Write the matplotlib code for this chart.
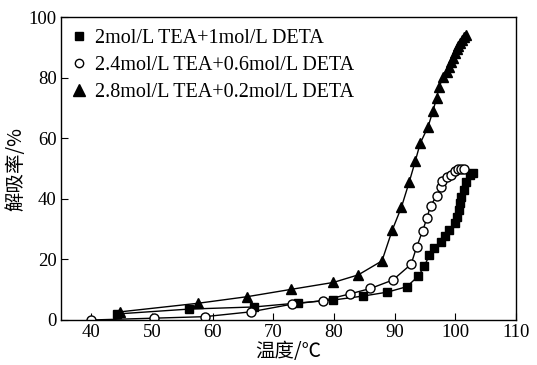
import matplotlib
matplotlib.use("Agg")
import matplotlib.pyplot as plt
from matplotlib.lines import Line2D

plt.rcParams["font.family"] = ["Liberation Serif", "Noto Sans CJK SC"]
plt.rcParams["mathtext.fontset"] = "stix"

# 2mol/L TEA + 1mol/L DETA (squares)
sq_x = [44.3, 56.1, 66.8, 74.0, 79.9, 84.8, 88.8, 92.0, 93.9, 94.9, 95.7, 96.5,
        97.6, 98.3, 99.0, 99.9, 100.3, 100.6, 100.7, 101.0, 101.4, 101.8, 102.4, 102.9]
sq_y = [2.0, 3.6, 4.3, 5.6, 6.6, 7.9, 9.2, 11.0, 14.5, 17.8, 21.4, 23.7,
        25.8, 27.7, 29.7, 31.9, 34.1, 36.3, 38.5, 40.7, 42.9, 45.6, 47.9, 48.4]

# 2.4mol/L TEA + 0.6mol/L DETA (circles)
ci_x = [40.0, 50.3, 58.7, 66.3, 73.0, 78.1, 82.6, 86.0, 89.7, 92.7, 93.6, 94.6,
        95.3, 95.9, 96.9, 97.6, 97.8, 98.6, 99.3, 99.9, 100.5, 101.0, 101.4]
ci_y = [0.0, 0.6, 1.1, 2.7, 5.2, 6.4, 8.6, 10.4, 13.2, 18.4, 24.0, 29.4,
        33.6, 37.7, 40.9, 43.8, 46.0, 47.1, 47.9, 49.3, 49.7, 49.7, 49.7]

# 2.8mol/L TEA + 0.2mol/L DETA (triangles)
tr_x = [44.8, 57.5, 65.7, 72.9, 79.9, 84.0, 87.9, 89.6, 91.1, 92.4, 93.4, 94.2,
        95.5, 96.3, 96.9, 97.3, 98.0, 98.6, 99.0, 99.3, 99.6, 99.9, 100.2, 100.5,
        100.8, 101.1, 101.4, 101.8]
tr_y = [2.7, 5.5, 7.7, 10.1, 12.4, 14.9, 19.5, 29.7, 37.2, 45.6, 52.5, 58.3,
        63.8, 69.0, 73.2, 76.8, 80.3, 82.0, 83.5, 85.0, 86.5, 88.0, 89.5, 90.5,
        91.5, 92.5, 93.3, 94.0]

labels = ["2mol/L TEA+1mol/L DETA",
          "2.4mol/L TEA+0.6mol/L DETA",
          "2.8mol/L TEA+0.2mol/L DETA"]

fig = plt.figure(figsize=(5.37, 3.65), dpi=100)
ax = fig.add_axes([0.1136, 0.1233, 0.8474, 0.8301])

ax.plot(sq_x, sq_y, "-", color="black", lw=1.0, marker="s", ms=5.5, mfc="black")
ax.plot(ci_x, ci_y, "-", color="black", lw=1.0, marker="o", ms=6.5, mfc="white", mec="black")
ax.plot(tr_x, tr_y, "-", color="black", lw=1.0, marker="^", ms=7, mfc="black")

handles = [
    Line2D([], [], ls="none", marker="s", ms=6, color="black"),
    Line2D([], [], ls="none", marker="o", ms=6, mfc="white", mec="black"),
    Line2D([], [], ls="none", marker="^", ms=8, color="black"),
]
ax.legend(handles, labels, loc="upper left", bbox_to_anchor=(0.0, 1.0),
          frameon=False, fontsize=14.5, handlelength=0.6, handletextpad=0.5,
          labelspacing=0.4, borderaxespad=0.3, borderpad=0.3)

ax.set_xlim(35, 110)
ax.set_ylim(0, 100)
ax.set_xticks(range(40, 111, 10))
ax.set_yticks(range(0, 101, 20))
ax.tick_params(direction="in", length=5, width=0.8, labelsize=13.5,
               top=False, right=False, pad=3)
for s in ax.spines.values():
    s.set_linewidth(1.0)

ax.set_xlabel("温度/℃", fontsize=14, labelpad=0,
              family=["Noto Sans CJK SC", "Liberation Serif"])
ax.set_ylabel("解吸率/%", fontsize=14, labelpad=2,
              family=["Noto Sans CJK SC", "Liberation Serif"])

fig.savefig("out.png", dpi=100)
